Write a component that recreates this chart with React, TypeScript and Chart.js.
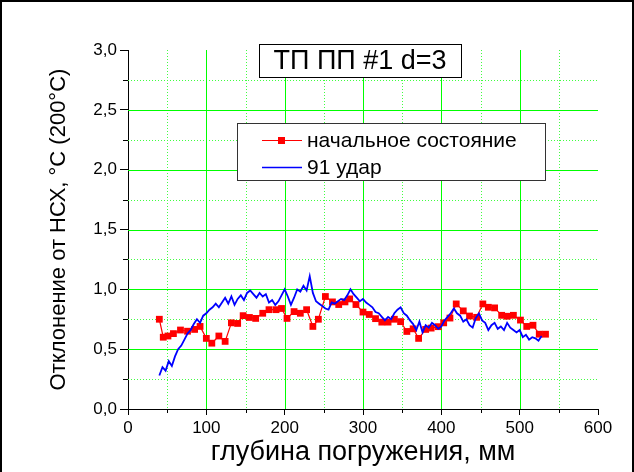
import React, { useEffect, useRef } from 'react';
import { Chart, registerables } from 'chart.js';

Chart.register(...registerables);

// ---- data ----
const redDepth = [40, 45, 51, 58, 67, 76, 85, 92, 100, 107, 116, 124, 132, 140, 147, 155, 163, 172, 180, 189, 196, 203, 212, 220, 228, 236, 243, 252, 261, 269, 277, 283, 291, 300, 308, 316, 324, 332, 340, 348, 356, 364, 371, 380, 387, 396, 403, 411, 419, 428, 436, 445, 453, 460, 468, 477, 484, 492, 501, 509, 517, 525, 533];
const redValues = [0.75, 0.60, 0.61, 0.63, 0.66, 0.65, 0.665, 0.69, 0.59, 0.55, 0.61, 0.565, 0.72, 0.715, 0.78, 0.765, 0.757, 0.80, 0.83, 0.83, 0.84, 0.757, 0.814, 0.80, 0.83, 0.69, 0.75, 0.94, 0.895, 0.873, 0.895, 0.92, 0.873, 0.81, 0.79, 0.755, 0.726, 0.726, 0.75, 0.73, 0.648, 0.67, 0.59, 0.665, 0.676, 0.688, 0.72, 0.76, 0.878, 0.82, 0.777, 0.766, 0.878, 0.85, 0.845, 0.783, 0.775, 0.783, 0.743, 0.69, 0.70, 0.625, 0.625];

const blueDepth = [40, 44, 48, 52, 56, 60, 64, 68, 72, 76, 80, 84, 88, 92, 96, 100, 104, 108, 112, 116, 120, 124, 128, 132, 136, 140, 144, 148, 152, 156, 160, 164, 168, 172, 176, 180, 184, 188, 192, 196, 200, 204, 208, 212, 216, 220, 224, 228, 232, 236, 240, 244, 248, 252, 256, 260, 264, 268, 272, 276, 280, 284, 288, 292, 296, 300, 304, 308, 312, 316, 320, 324, 328, 332, 336, 340, 344, 348, 352, 356, 360, 364, 368, 372, 376, 380, 384, 388, 392, 396, 400, 404, 408, 412, 416, 420, 424, 428, 432, 436, 440, 444, 448, 452, 456, 460, 464, 468, 472, 476, 480, 484, 488, 492, 496, 500, 504, 508, 512, 516, 520, 524, 528];
const blueValues = [0.28, 0.35, 0.32, 0.40, 0.36, 0.44, 0.50, 0.53, 0.58, 0.63, 0.66, 0.71, 0.75, 0.72, 0.78, 0.80, 0.83, 0.85, 0.88, 0.85, 0.89, 0.93, 0.88, 0.94, 0.87, 0.92, 0.95, 0.91, 0.97, 0.99, 0.96, 0.93, 0.97, 0.94, 0.96, 0.89, 0.91, 0.87, 0.90, 0.95, 1.00, 0.94, 0.87, 0.93, 1.00, 0.98, 1.03, 0.99, 1.11, 0.97, 0.90, 0.88, 0.86, 0.84, 0.83, 0.89, 0.88, 0.90, 0.92, 0.91, 0.95, 1.00, 0.96, 0.93, 0.90, 0.92, 0.89, 0.87, 0.85, 0.81, 0.80, 0.77, 0.74, 0.77, 0.75, 0.80, 0.83, 0.85, 0.80, 0.78, 0.74, 0.71, 0.66, 0.73, 0.64, 0.70, 0.68, 0.72, 0.70, 0.67, 0.69, 0.74, 0.77, 0.80, 0.84, 0.80, 0.78, 0.73, 0.75, 0.70, 0.68, 0.76, 0.80, 0.74, 0.72, 0.66, 0.70, 0.72, 0.67, 0.69, 0.66, 0.72, 0.68, 0.66, 0.64, 0.66, 0.60, 0.62, 0.58, 0.60, 0.59, 0.57, 0.61];

const seriesLabels = ['начальное состояние', '91 удар'];
const chartTitle = 'ТП ПП #1 d=3';
const xTitle = 'глубина погружения, мм';
const yTitle = 'Отклонение от НСХ, °С (200°С)';

const xMajorStep = 100;
const yMajorStep = 0.5;
const xMajorGrid = [100, 200, 300, 400, 500];
const yMajorGrid = [0.5, 1.0, 1.5, 2.0, 2.5];
const xMinorTicks = [50, 150, 250, 350, 450, 550];
const yMinorTicks = [0.25, 0.75, 1.25, 1.75, 2.25, 2.75];

const FONT = "'Liberation Sans', Arial, sans-serif";
const GREEN = '#00ff00';

function vLine(ctx: CanvasRenderingContext2D, px: number, y0: number, y1: number) {
  ctx.beginPath();
  ctx.moveTo(px, y0);
  ctx.lineTo(px, y1);
  ctx.stroke();
}
function hLine(ctx: CanvasRenderingContext2D, py: number, x0: number, x1: number) {
  ctx.beginPath();
  ctx.moveTo(x0, py);
  ctx.lineTo(x1, py);
  ctx.stroke();
}

const decor = {
  id: 'decor',
  beforeDatasetsDraw(chart: any) {
    const { ctx, chartArea, scales } = chart;
    const x = scales.x;
    const y = scales.y;
    const xp = (v: number) => Math.round(x.getPixelForValue(v)) + 0.5;
    const yp = (v: number) => Math.round(y.getPixelForValue(v)) + 0.5;
    ctx.save();
    ctx.lineWidth = 1;
    // minor dotted grid
    ctx.strokeStyle = '#40ff40';
    ctx.setLineDash([1, 2]);
    for (const v of xMinorTicks) vLine(ctx, xp(v), chartArea.top, chartArea.bottom);
    for (const v of yMinorTicks) hLine(ctx, yp(v), chartArea.left, chartArea.right);
    // major solid grid
    ctx.setLineDash([]);
    ctx.strokeStyle = GREEN;
    for (const v of xMajorGrid) vLine(ctx, xp(v), chartArea.top, chartArea.bottom);
    for (const v of yMajorGrid) hLine(ctx, yp(v), chartArea.left, chartArea.right);
    // minor ticks
    ctx.strokeStyle = '#000';
    for (const v of xMinorTicks) vLine(ctx, xp(v), chartArea.bottom, chartArea.bottom + 4);
    for (const v of yMinorTicks) hLine(ctx, yp(v), chartArea.left, chartArea.left - 5);
    ctx.restore();
  },
  afterDraw(chart: any) {
    const { ctx } = chart;
    ctx.save();
    // title box
    ctx.strokeStyle = '#000';
    ctx.lineWidth = 1;
    ctx.fillStyle = '#fff';
    ctx.fillRect(259.5, 44.5, 202, 33);
    ctx.strokeRect(259.5, 44.5, 202, 33);
    ctx.fillStyle = '#000';
    ctx.font = `27px ${FONT}`;
    ctx.textAlign = 'center';
    ctx.textBaseline = 'middle';
    ctx.fillText(chartTitle, 360, 62);

    // legend box
    ctx.fillStyle = '#fff';
    ctx.fillRect(237.5, 123.5, 308, 57);
    ctx.strokeStyle = '#333';
    ctx.strokeRect(237.5, 123.5, 308, 57);
    const rows = [
      { y: 140, color: '#ff0000', marker: true },
      { y: 167, color: '#0000ff', marker: false },
    ];
    rows.forEach((r, i) => {
      ctx.strokeStyle = r.color;
      ctx.lineWidth = r.marker ? 1.2 : 1.6;
      ctx.beginPath();
      ctx.moveTo(262, r.y + 0.5);
      ctx.lineTo(302, r.y + 0.5);
      ctx.stroke();
      if (r.marker) {
        ctx.fillStyle = r.color;
        ctx.fillRect(278, r.y - 3, 7, 7);
      }
      ctx.fillStyle = '#000';
      ctx.font = `21px ${FONT}`;
      ctx.textAlign = 'left';
      ctx.textBaseline = 'middle';
      ctx.fillText(seriesLabels[i], 307, r.y + 1);
    });

    // outer frame
    ctx.fillStyle = '#000';
    ctx.fillRect(0, 0, 634, 2);
    ctx.fillRect(0, 0, 2, 472);
    ctx.fillRect(632, 0, 2, 472);
    ctx.restore();
  },
};

export default function App() {
  const ref = useRef<HTMLCanvasElement>(null);
  useEffect(() => {
    const canvas = ref.current;
    if (!canvas) return;
    const chart = new Chart(canvas, {
      type: 'line',
      data: {
        datasets: [
          {
            label: seriesLabels[1],
            data: blueDepth.map((d, i) => ({ x: d, y: blueValues[i] })),
            borderColor: '#0000ff',
            borderWidth: 1.8,
            pointRadius: 0,
            tension: 0,
            order: 0,
          },
          {
            label: seriesLabels[0],
            data: redDepth.map((d, i) => ({ x: d, y: redValues[i] })),
            borderColor: '#ff0000',
            backgroundColor: '#ff0000',
            borderWidth: 1.2,
            pointStyle: 'rect',
            pointRadius: 4.8,
            pointBorderWidth: 0,
            pointBackgroundColor: '#ff0000',
            tension: 0,
            order: 1,
          },
        ],
      },
      options: {
        responsive: false,
        animation: false,
        devicePixelRatio: 1,
        layout: { padding: { top: 50, right: 36, left: 0, bottom: 0 } },
        plugins: {
          legend: { display: false },
          title: { display: false },
          tooltip: { enabled: false },
        },
        scales: {
          x: {
            type: 'linear',
            min: 0,
            max: 600,
            afterFit: (s: any) => { s.height = 63; },
            ticks: {
              stepSize: xMajorStep,
              color: '#000',
              font: { family: FONT, size: 17 },
              padding: 3,
              maxRotation: 0,
            },
            grid: {
              drawOnChartArea: false,
              drawTicks: true,
              tickColor: '#000',
              tickLength: 6,
            },
            border: { color: '#000', width: 1 },
            title: {
              display: true,
              text: xTitle,
              color: '#000',
              font: { family: FONT, size: 27 },
              padding: { top: 0, bottom: 3 },
            },
          },
          y: {
            type: 'linear',
            min: 0,
            max: 3,
            afterFit: (s: any) => { s.width = 128; },
            ticks: {
              stepSize: yMajorStep,
              color: '#000',
              font: { family: FONT, size: 17 },
              padding: 3,
              callback: (v: any) => Number(v).toFixed(1).replace('.', ','),
            },
            grid: {
              drawOnChartArea: false,
              drawTicks: true,
              tickColor: '#000',
              tickLength: 8,
            },
            border: { color: '#000', width: 1 },
            title: {
              display: true,
              text: yTitle,
              color: '#000',
              font: { family: FONT, size: 22 },
              padding: { top: 46, bottom: 0 },
            },
          },
        },
      },
      plugins: [decor],
    } as any);
    return () => chart.destroy();
  }, []);
  return (
    <div style={{ position: 'fixed', left: 0, top: 0, width: 634, height: 472, background: '#fff' }}>
      <canvas ref={ref} width={634} height={472} style={{ display: 'block' }} />
    </div>
  );
}
